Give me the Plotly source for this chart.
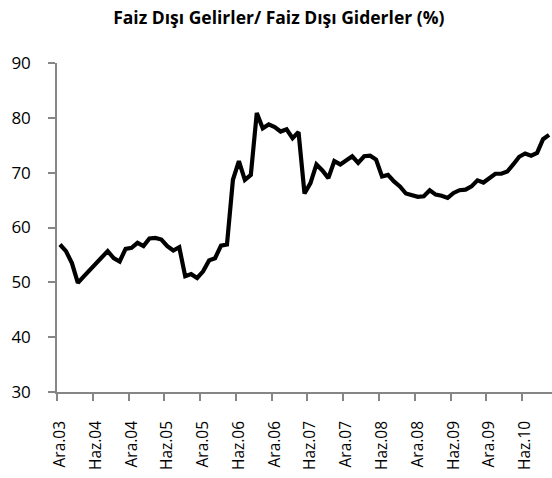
import plotly.graph_objects as go

month_names = ["Oca", "Şub", "Mar", "Nis", "May", "Haz",
               "Tem", "Ağu", "Eyl", "Eki", "Kas", "Ara"]

# Dec 2003 .. Oct 2010
categories = []
for k in range(83):
    m = (11 + k) % 12
    y = 3 + (11 + k) // 12
    categories.append(f"{month_names[m]}.{y:02d}")

values = [
    56.9, 55.7, 53.5, 49.9, 51.1, 52.3, 53.5, 54.7, 55.7, 54.4,
    53.8, 56.1, 56.3, 57.2, 56.6, 58.0, 58.1, 57.8, 56.6, 55.8,
    56.4, 51.1, 51.5, 50.8, 52.0, 54.0, 54.4, 56.7, 56.9, 68.7,
    72.1, 68.7, 69.6, 80.9, 78.1, 78.8, 78.3, 77.5, 77.9, 76.3,
    77.4, 66.2, 68.1, 71.5, 70.4, 69.0, 72.1, 71.5, 72.2, 73.0,
    71.8, 73.0, 73.1, 72.4, 69.3, 69.6, 68.4, 67.5, 66.2, 65.8,
    65.6, 65.7, 66.8, 66.0, 65.8, 65.4, 66.3, 66.8, 66.9, 67.5,
    68.6, 68.2, 69.1, 69.8, 69.8, 70.2, 71.5, 72.9, 73.5, 73.1,
    73.6, 76.1, 76.9,
]

tick_step = 6
y_ticks = [30, 40, 50, 60, 70, 80, 90]

fig = go.Figure()
fig.add_trace(go.Scatter(
    x=categories, y=values, mode="lines",
    line=dict(color="black", width=4.2),
    showlegend=False, hoverinfo="skip",
))

fig.update_layout(
    width=552, height=478,
    margin=dict(l=57, r=0, t=63, b=86),
    paper_bgcolor="white", plot_bgcolor="white",
    title=dict(text="<b>Faiz Dışı Gelirler/ Faiz Dışı Giderler (%)</b>",
               x=0.505, xanchor="center", y=0.962, yanchor="middle",
               font=dict(family="Open Sans", size=17.5, color="black")),
    font=dict(family="Open Sans", color="black"),
)
fig.update_xaxes(
    type="category", range=[-0.5, 82.5],
    tickmode="linear", tick0=0, dtick=tick_step, tickson="boundaries",
    tickangle=-90, tickfont=dict(size=15.5, family="Open Sans"),
    ticklabelstandoff=21,
    showline=True, linecolor="#868686", linewidth=1.5,
    ticks="outside", ticklen=7, tickcolor="#868686", tickwidth=1.5,
    showgrid=False, zeroline=False,
)
fig.update_yaxes(
    range=[30, 90], tickvals=y_ticks,
    tickfont=dict(size=17, family="Open Sans"),
    ticklabelstandoff=14,
    showline=True, linecolor="#868686", linewidth=1.5,
    ticks="outside", ticklen=7, tickcolor="#868686", tickwidth=1.5,
    showgrid=False, zeroline=False,
)

fig.write_html("out.html", config={"displayModeBar": False},
               post_script="document.body.style.margin='0';")
